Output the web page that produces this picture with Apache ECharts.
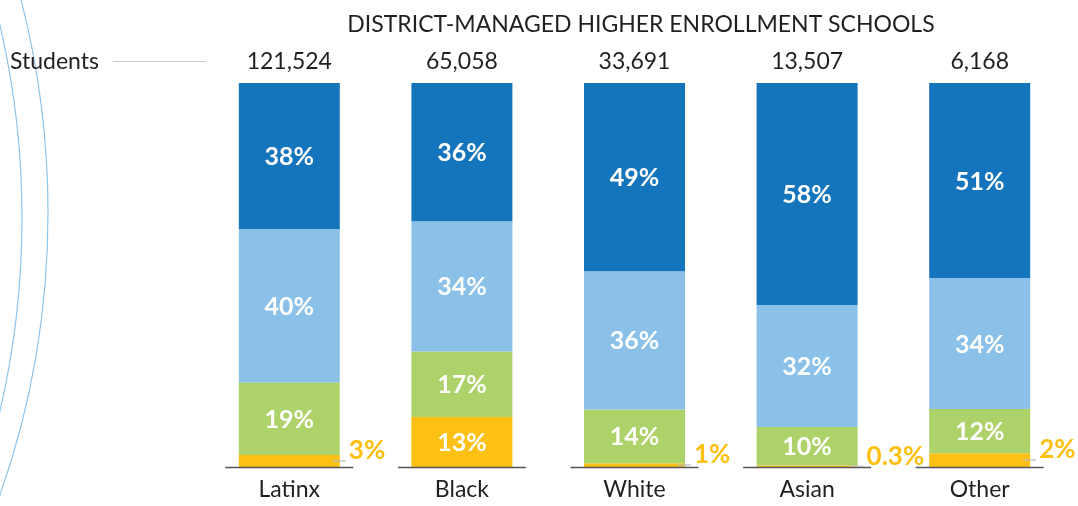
<!DOCTYPE html>
<html>
<head>
<meta charset="utf-8">
<script src="https://cdn.jsdelivr.net/npm/echarts@6/dist/echarts.min.js"></script>
<style>
  html, body { margin: 0; padding: 0; background: #fff; }
  #main { width: 1078px; height: 506px; }
</style>
</head>
<body>
<div id="main"></div>
<script>
// groups and student totals
var groups = ['Latinx', 'Black', 'White', 'Asian', 'Other'];
var students = [121524, 65058, 33691, 13507, 6168];

// segment heights as drawn (share of each bar, bottom to top)
var yellowVals = [3.1, 13, 1, 0.4, 3.6];
var greenVals = [18.9, 17.1, 14, 10, 11.5];
var lightVals = [40, 33.9, 36, 31.8, 34.1];
var darkVals = [38, 36, 49, 57.8, 50.8];

// printed labels
var yellowLabels = ['3%', '13%', '1%', '0.3%', '2%'];
var greenLabels = ['19%', '17%', '14%', '10%', '12%'];
var lightLabels = ['40%', '34%', '36%', '32%', '34%'];
var darkLabels = ['38%', '36%', '49%', '58%', '51%'];

var FONT = 'Lato, "Open Sans", sans-serif';
var BAR_W = 101;

function insideLabel(labels) {
    return {
        show: true,
        position: 'inside',
        offset: [0, 1],
        color: '#fff',
        fontFamily: FONT,
        fontWeight: 'bold',
        fontSize: 25,
        formatter: function (p) { return labels[p.dataIndex]; }
    };
}

// yellow slices: only the tall one keeps its label inside
var yellowData = yellowVals.map(function (v, i) {
    if (v > 5) return { value: v };
    return {
        value: v,
        label: {
            position: 'right',
            distance: 9,
            offset: [0, -10],
            color: '#fdbf10',
            fontSize: 26
        }
    };
});

var option = {
    animation: false,
    title: {
        text: 'DISTRICT-MANAGED HIGHER ENROLLMENT SCHOOLS',
        left: 636,
        textAlign: 'center',
        top: 8,
        textStyle: { fontFamily: FONT, fontWeight: 'normal', fontSize: 23, color: '#231f20' }
    },
    graphic: [
        { type: 'circle', shape: { cx: -827, cy: 218, r: 849 }, style: { fill: 'none', stroke: '#8fc4ec', lineWidth: 1.2 }, silent: true },
        { type: 'circle', shape: { cx: -804, cy: 213, r: 852 }, style: { fill: 'none', stroke: '#8fc4ec', lineWidth: 1.2 }, silent: true },
        { type: 'text', left: 10, top: 50, style: { text: 'Students', font: '23px ' + FONT, fill: '#231f20' } },
        { type: 'line', shape: { x1: 113, y1: 61.5, x2: 206, y2: 61.5 }, style: { stroke: '#c8c8c8', lineWidth: 1.2 } }
    ],
    grid: { left: 203, right: 12, top: 83, bottom: 39 },
    xAxis: [{
        type: 'category',
        data: groups,
        axisLine: { show: false },
        axisTick: { show: false },
        axisLabel: { margin: 11, fontFamily: FONT, fontSize: 23, color: '#231f20' }
    }, {
        type: 'category',
        position: 'top',
        data: students.map(function (n) { return n.toLocaleString('en-US'); }),
        axisLine: { show: false },
        axisTick: { show: false },
        axisLabel: { margin: 10, fontFamily: FONT, fontSize: 23, color: '#231f20' }
    }],
    yAxis: { type: 'value', min: 0, max: 100, show: false },
    series: [{
        type: 'bar', stack: 'all', barWidth: BAR_W,
        data: yellowData,
        itemStyle: { color: '#fdc014' },
        label: insideLabel(yellowLabels)
    }, {
        type: 'bar', stack: 'all', barWidth: BAR_W,
        data: greenVals,
        itemStyle: { color: '#add26a' },
        label: insideLabel(greenLabels)
    }, {
        type: 'bar', stack: 'all', barWidth: BAR_W,
        data: lightVals,
        itemStyle: { color: '#8bc1e8' },
        label: insideLabel(lightLabels)
    }, {
        type: 'bar', stack: 'all', barWidth: BAR_W,
        data: darkVals,
        itemStyle: { color: '#1474bc' },
        label: insideLabel(darkLabels)
    }, {
        // baseline under each bar + short leader lines to the outside labels
        type: 'custom',
        z: 5,
        silent: true,
        data: yellowVals.map(function (v, i) { return [i, v]; }),
        renderItem: function (params, api) {
            var i = api.value(0);
            var v = api.value(1);
            var base = api.coord([i, 0]);
            var cx = base[0];
            var kids = [{
                type: 'line',
                shape: { x1: cx - 64, y1: base[1] + 0.5, x2: cx + 64, y2: base[1] + 0.5 },
                style: { stroke: '#555', lineWidth: 1.5 }
            }];
            if (v <= 5) {
                var mid = api.coord([i, v / 2])[1];
                var right = cx + BAR_W / 2;
                kids.push({
                    type: 'line',
                    shape: { x1: right - 7, y1: mid, x2: right + 6, y2: mid },
                    style: { stroke: '#b8b8b8', lineWidth: 1.2 }
                });
            }
            return { type: 'group', children: kids };
        }
    }]
};

var myChart = echarts.init(document.getElementById('main'));
myChart.setOption(option);
</script>
</body>
</html>
